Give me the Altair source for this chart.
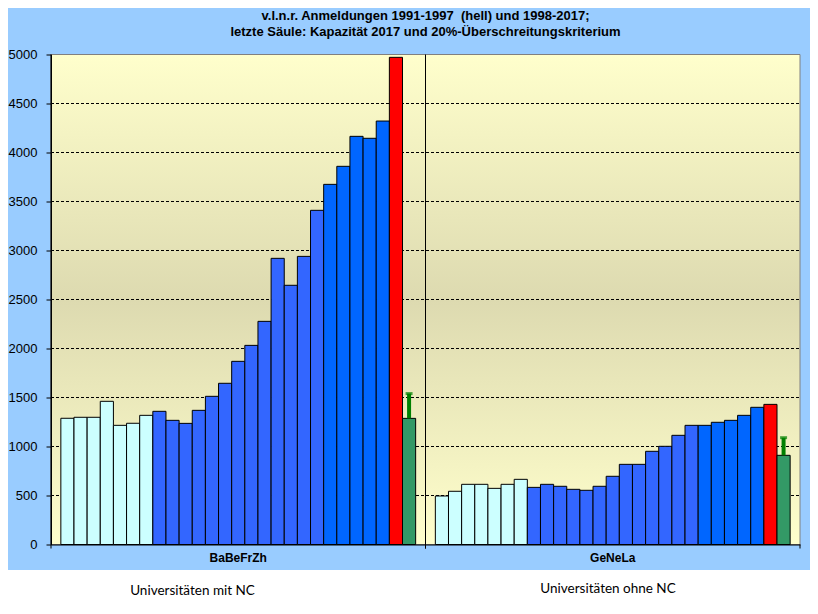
import altair as alt
import pandas as pd

# ---------------- data ----------------
gruppen = ["BaBeFrZh", "GeNeLa"]
# kind of each bar within a group (left to right)
art = ["hell"] * 7 + ["blau"] * 13 + ["blau2"] * 5 + ["kap", "krit"]
werte_babefrzh = [1288, 1298, 1298, 1461, 1216, 1237, 1318,
                  1359, 1267, 1236, 1369, 1512, 1645, 1869, 2032, 2277,
                  2920, 2645, 2940, 3410, 3675, 3859, 4165, 4145, 4321,
                  4971, 1287]
werte_genela = [495, 543, 614, 614, 573, 614, 665,
                583, 614, 594, 563, 553, 594, 696, 818, 818,
                951, 1002, 1114, 1216, 1216, 1247, 1267, 1318, 1400,
                1430, 910]
kriterium = [1540, 1090]   # top of the 20% criterion marker
y_ticks = list(range(0, 5001, 500))
arten = ["hell", "blau", "blau2", "kap", "krit"]
farben = ["#CCFFFF", "#3366FF", "#0066FF", "#FF0000", "#339966"]
titel = ["v.l.n.r. Anmeldungen 1991-1997\u00a0 (hell) und 1998-2017;",
         "letzte Säule: Kapazität 2017 und 20%-Überschreitungskriterium"]
fuss = ["Universitäten mit NC", "Universitäten ohne NC"]

rows = []
for g, werte in zip(gruppen, [werte_babefrzh, werte_genela]):
    for i, (w, a) in enumerate(zip(werte, art)):
        rows.append({"gruppe": g, "idx": i, "wert": w, "art": a})
df = pd.DataFrame(rows)
df_err = pd.DataFrame({
    "gruppe": gruppen,
    "idx": [len(art) - 1] * 2,
    "wert": [werte_babefrzh[-1], werte_genela[-1]],
    "err": kriterium,
})
df_grid = pd.DataFrame({"wert": y_ticks[1:-1]})
df_grp = pd.DataFrame({"gruppe": gruppen})
one = pd.DataFrame({"a": [0]})

# ---------------- layout ----------------
W, H = 749, 490

xscale = alt.Scale(type="band", domain=gruppen, paddingInner=0, paddingOuter=0)
oscale = alt.Scale(type="band", domain=list(range(len(art))), paddingInner=0, paddingOuter=0.75)
yscale = alt.Scale(domain=[0, 5000], nice=False)

xaxis = alt.Axis(title=None, ticks=False, domain=True, domainColor="black", domainWidth=1,
                 labelAngle=0, labelFont="Liberation Sans", labelFontWeight="bold",
                 labelFontSize=12, labelColor="black", labelPadding=8, zindex=1)
yaxis = alt.Axis(title=None, values=y_ticks, format="d", grid=False, tickSize=5,
                 tickColor="black", tickWidth=1, domainColor="black", domainWidth=1,
                 labelColor="black", labelFont="Liberation Sans", labelFontSize=13,
                 labelPadding=9, zindex=1)

X = alt.X("gruppe:N", scale=xscale, axis=xaxis, sort=gruppen)
XO = alt.XOffset("idx:O", scale=oscale)

white_bottom = alt.Chart(one).mark_rect(color="white").encode(
    x=alt.value(-43), x2=alt.value(W + 10), y=alt.value(H + 25.5), y2=alt.value(H + 62))

plot_bg = alt.Chart(one).mark_rect(
    fill=alt.LinearGradient(gradient="linear", x1=0, x2=0, y1=0, y2=1,
                            stops=[alt.GradientStop(offset=0, color="#FFFFCC"),
                                   alt.GradientStop(offset=0.5, color="#DDDAB0"),
                                   alt.GradientStop(offset=1, color="#FFFFCC")]),
    stroke="#808080", strokeWidth=1).encode(
    x=alt.value(0), x2=alt.value(W), y=alt.value(0), y2=alt.value(H))

grid = alt.Chart(df_grid).mark_rule(color="black", strokeDash=[3, 2], strokeWidth=1).encode(
    y=alt.Y("wert:Q", scale=yscale, axis=yaxis), x=alt.value(0), x2=alt.value(W))

bars = alt.Chart(df).mark_bar(stroke="black", strokeWidth=1).encode(
    x=X, xOffset=XO,
    y=alt.Y("wert:Q", scale=yscale, axis=yaxis),
    color=alt.Color("art:N", scale=alt.Scale(domain=arten, range=farben), legend=None),
)

err_line = alt.Chart(df_err).mark_rule(color="#008000", strokeWidth=4).encode(
    x=X, xOffset=XO, y=alt.Y("wert:Q", scale=yscale, axis=yaxis), y2="err:Q")
err_cap = alt.Chart(df_err).mark_tick(color="#008000", thickness=3, size=7).encode(
    x=X, xOffset=XO, y=alt.Y("err:Q", scale=yscale, axis=yaxis))

sep = alt.Chart(df_grp).mark_rule(color="black", strokeWidth=1).encode(
    x=alt.X("gruppe:N", scale=xscale, axis=xaxis, bandPosition=0),
    y=alt.value(0), y2=alt.value(H + 4))
end_ticks = alt.Chart(df_grp).mark_rule(color="black", strokeWidth=1).encode(
    x=alt.X("gruppe:N", scale=xscale, axis=xaxis, bandPosition=1),
    y=alt.value(H), y2=alt.value(H + 4))

foot1 = alt.Chart(one).mark_text(text=fuss[0], font="Lato", fontSize=13.5, align="center",
                                 baseline="alphabetic", color="black").encode(
    x=alt.value(141.5), y=alt.value(H + 50.5))
foot2 = alt.Chart(one).mark_text(text=fuss[1], font="Lato", fontSize=13.5, align="center",
                                 baseline="alphabetic", color="black").encode(
    x=alt.value(557), y=alt.value(H + 48.5))

chart = alt.layer(white_bottom, plot_bg, grid, bars, err_line, err_cap, sep, end_ticks,
                  foot1, foot2).properties(
    width=W, height=H,
    title=alt.TitleParams(text=titel, font="Liberation Sans Narrow, Arial Narrow, Liberation Sans",
                          fontSize=13, fontWeight="bold", color="black", anchor="middle",
                          lineHeight=15.5, offset=10, frame="group"),
    padding={"left": 43, "top": 46.5, "right": 10, "bottom": 61.5},
    autosize=alt.AutoSizeParams(type="none"),
).configure(background="#99CCFF").configure_view(stroke=None)

chart.save("out.html", embed_options={"renderer": "svg", "actions": False})
